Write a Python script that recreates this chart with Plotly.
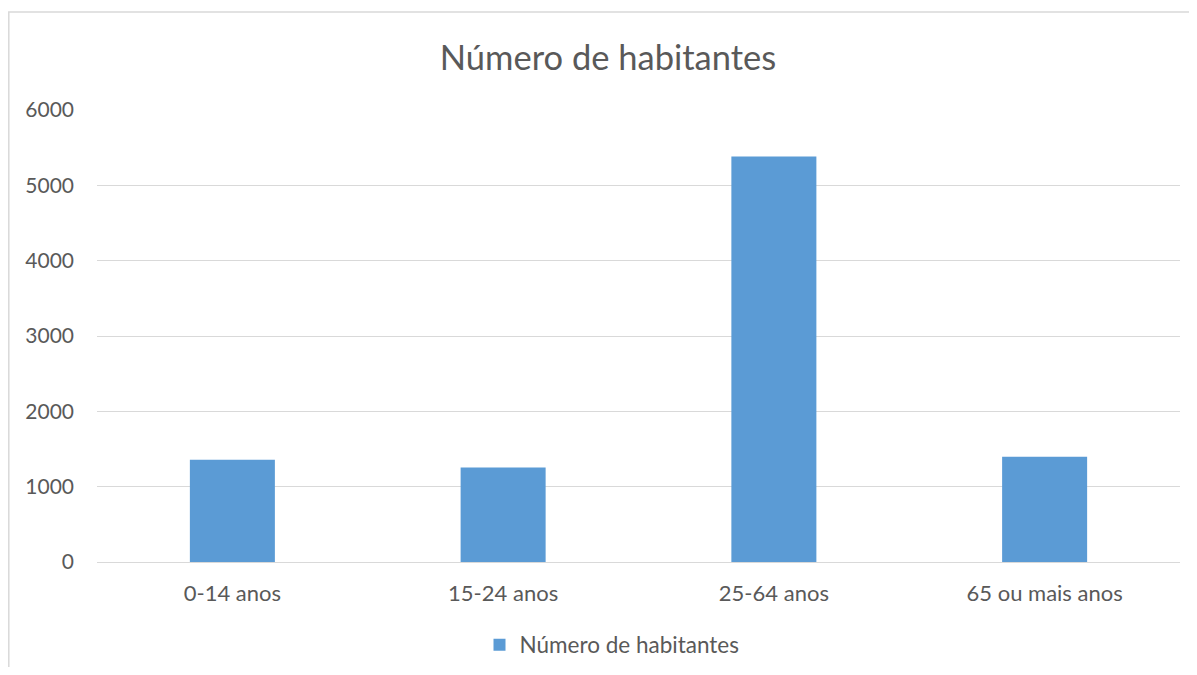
import plotly.graph_objects as go

categories = ["0-14 anos", "15-24 anos", "25-64 anos", "65 ou mais anos"]
values = [1357, 1254, 5384, 1397]
series_name = "Número de habitantes"
title_text = "Número de habitantes"
y_ticks = [0, 1000, 2000, 3000, 4000, 5000, 6000]

FONT = "Lato, Calibri, Carlito, sans-serif"
TXT = "#595959"

fig = go.Figure()
fig.add_trace(go.Bar(
    x=categories, y=values, name=series_name,
    marker=dict(color="#5b9bd5", line=dict(width=0)),
    width=0.314,
))

# page has an 8px body margin; figure coords = page coords - 8
W, H = 1181, 659
L, R, T, B = 89, 9, 102, 105
pw, ph = W - L - R, H - T - B

def px_x(x):
    return (x - L) / pw

def px_y(y):
    return (H - B - y) / ph

fig.update_layout(
    width=W, height=H,
    margin=dict(l=L, r=R, t=T, b=B, autoexpand=False),
    paper_bgcolor="white", plot_bgcolor="white",
    font=dict(family=FONT, color=TXT, size=21),
    title=dict(text=title_text, x=600 / W, xanchor="center",
               y=1 - 50 / H, yanchor="middle",
               font=dict(size=34.5, color=TXT, family=FONT)),
    showlegend=True,
    legend=dict(orientation="h", x=px_x(604), xanchor="center", xref="paper",
                y=px_y(637), yanchor="middle",
                font=dict(size=22.5, color=TXT, family=FONT),
                itemwidth=30, bgcolor="rgba(0,0,0,0)"),
    bargap=0.686,
    xaxis=dict(showgrid=False, showline=True, linecolor="#d9d9d9", linewidth=1,
               ticks="", tickfont=dict(size=22, color=TXT), ticklabelstandoff=12),
    yaxis=dict(range=[0, 6000], tickvals=y_ticks, showgrid=True,
               gridcolor="#d9d9d9", gridwidth=1, zeroline=False, showline=False,
               ticks="", tickfont=dict(size=21, color=TXT), ticklabelstandoff=22),
    shapes=[dict(type="rect", xref="paper", yref="paper",
                 x0=px_x(0.8), x1=px_x(1300), y0=px_y(800), y1=px_y(4),
                 line=dict(color="#d9d9d9", width=1.5), fillcolor="rgba(0,0,0,0)",
                 layer="below")],
)

fig.write_html("out.html")
